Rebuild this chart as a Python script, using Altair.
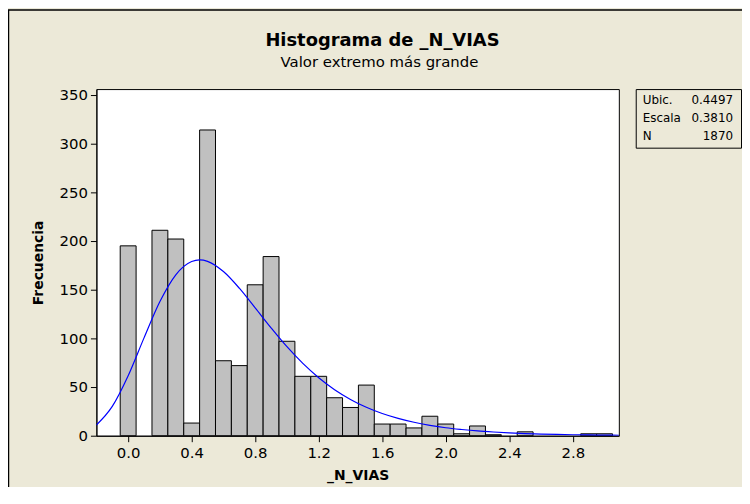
import altair as alt
import pandas as pd

# ---- data ----
bin_centers = [0.0, 0.1, 0.2, 0.3, 0.4, 0.5, 0.6, 0.7, 0.8, 0.9,
               1.0, 1.1, 1.2, 1.3, 1.4, 1.5, 1.6, 1.7, 1.8, 1.9,
               2.0, 2.1, 2.2, 2.3, 2.4, 2.5, 2.6, 2.7, 2.8, 2.9, 3.0]
counts = [195, 0, 211, 202, 13, 314, 77, 72, 155, 184,
          97, 61, 61, 39, 29, 52, 12, 12, 8, 20,
          12, 2, 10, 1, 0, 4, 0, 0, 0, 2, 2]

curve_x = [-0.2, -0.1, 0.0, 0.1, 0.2, 0.3, 0.4, 0.45, 0.5, 0.6, 0.7, 0.8, 0.9,
           1.0, 1.1, 1.2, 1.3, 1.4, 1.5, 1.6, 1.7, 1.8, 1.9, 2.0, 2.1, 2.2,
           2.3, 2.4, 2.5, 2.6, 2.7, 2.8, 2.9, 3.0, 3.1]
curve_y = [11.0, 30.1, 61.6, 100.5, 137.8, 165.3, 178.9, 180.6, 179.1, 168.6, 151.5,
           131.3, 110.8, 91.4, 74.3, 59.6, 47.3, 37.3, 29.2, 22.8, 17.8, 13.8,
           10.7, 8.2, 6.4, 4.9, 3.8, 2.9, 2.2, 1.7, 1.3, 1.0, 0.8, 0.6, 0.5]

x_ticks = [0.0, 0.4, 0.8, 1.2, 1.6, 2.0, 2.4, 2.8]
y_ticks = [0, 50, 100, 150, 200, 250, 300, 350]

stat_names = ["Ubic.", "Escala", "N"]
stat_values = ["0.4497", "0.3810", "1870"]

title_text = "Histograma de _N_VIAS"
subtitle_text = "Valor extremo más grande"
x_title = "_N_VIAS"
y_title = "Frecuencia"

# ---- layout ----
W, H = 526, 349
FONT = "DejaVu Sans"
BG = "#ECE9D8"

bars_df = pd.DataFrame({"center": bin_centers, "count": counts})
curve_df = pd.DataFrame({"x": curve_x, "y": curve_y})
one = pd.DataFrame({"k": [0]})

xscale = alt.Scale(domain=[-0.2, 3.09], nice=False, zero=False)
yscale = alt.Scale(domain=[0, 356], nice=False)

bars = alt.Chart(bars_df).transform_filter("datum.count > 0").transform_calculate(
    x0="datum.center - 0.05", x1="datum.center + 0.05"
).mark_bar(fill="#C0C0C0", stroke="#000000", strokeWidth=1, opacity=1).encode(
    x=alt.X("x0:Q", scale=xscale,
            axis=alt.Axis(values=x_ticks, format=".1f", title=x_title)),
    x2="x1:Q",
    y=alt.Y("count:Q", scale=yscale,
            axis=alt.Axis(values=y_ticks, format="d", title=y_title)),
    y2=alt.datum(0),
)

curve = alt.Chart(curve_df).mark_line(color="#0000FF", strokeWidth=1.2, clip=True,
                                      interpolate="monotone").encode(
    x=alt.X("x:Q", scale=xscale),
    y=alt.Y("y:Q", scale=yscale),
)

box = alt.Chart(one).mark_rect(fill=None, stroke="#000000", strokeWidth=1).encode(
    x=alt.value(543.5), x2=alt.value(649.5), y=alt.value(0.5), y2=alt.value(59.5)
)

names_txt = alt.Chart(one).mark_text(
    align="left", baseline="top", font=FONT, fontSize=12, lineHeight=18, color="black"
).encode(x=alt.value(550), y=alt.value(6), text=alt.value(stat_names))

vals_txt = alt.Chart(one).mark_text(
    align="right", baseline="top", font=FONT, fontSize=12, lineHeight=18, color="black"
).encode(x=alt.value(641), y=alt.value(6), text=alt.value(stat_values))

title_mark = alt.Chart(one).mark_text(
    align="center", baseline="middle", font=FONT, fontSize=18, fontWeight="bold", color="black"
).encode(x=alt.value(288), y=alt.value(-48), text=alt.value(title_text))

subtitle_mark = alt.Chart(one).mark_text(
    align="center", baseline="middle", font=FONT, fontSize=15, color="black"
).encode(x=alt.value(285), y=alt.value(-27), text=alt.value(subtitle_text))

frame = alt.Chart(one).mark_rect(fill=None, stroke="#000000", strokeWidth=1.5).encode(
    x=alt.value(-88.5), x2=alt.value(800), y=alt.value(-79.5), y2=alt.value(600)
)

chart = alt.layer(bars, curve, box, names_txt, vals_txt, title_mark, subtitle_mark,
                  frame).properties(
    width=W, height=H,
    autosize=alt.AutoSizeParams(type="none"),
    padding={"left": 89, "top": 80, "right": 124, "bottom": 50},
    background=BG,
).configure_view(
    fill="white", stroke="#000000", strokeWidth=1
).configure_axis(
    grid=False, domainColor="#000000", tickColor="#000000", tickSize=6,
    labelColor="black", labelFont=FONT, labelFontSize=15, labelPadding=3,
    titleFont=FONT, titleFontSize=14, titleFontWeight="bold", titleColor="black",
).configure_axisX(titlePadding=8, labelPadding=4).configure_axisY(titlePadding=14)

chart.save("out.html", embed_options={"renderer": "svg", "actions": False})
